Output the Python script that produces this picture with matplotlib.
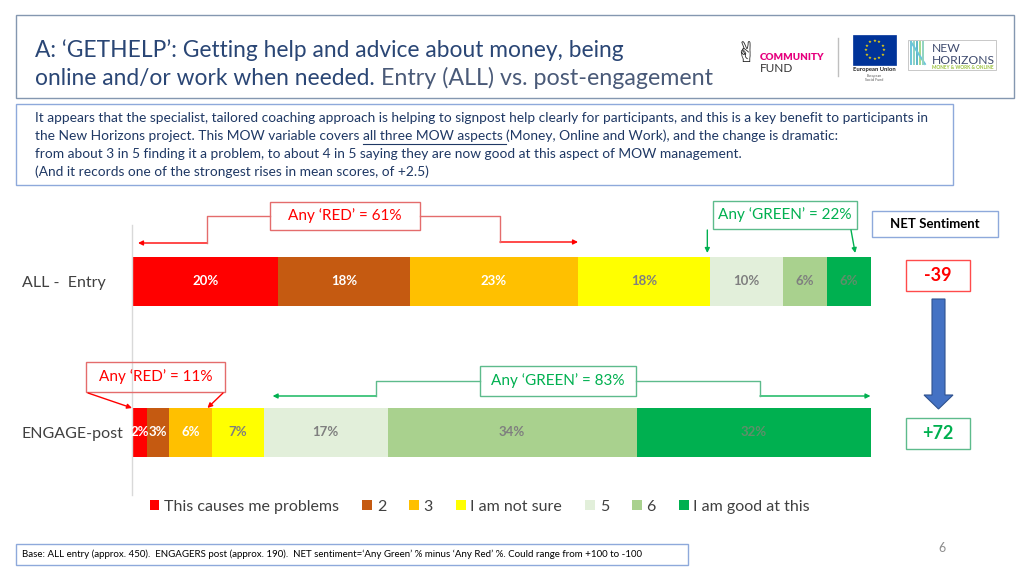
import matplotlib
matplotlib.use('Agg')
import matplotlib.pyplot as plt
from matplotlib.patches import Rectangle, Polygon, FancyArrowPatch
from matplotlib.lines import Line2D
import numpy as np

# ---------------- data ----------------
categories = ['ALL -  Entry', 'ENGAGE-post']
series_names = ['This causes me problems', '2', '3', 'I am not sure', '5', '6', 'I am good at this']
entry_values = [20, 18, 23, 18, 10, 6, 6]
engage_values = [2, 3, 6, 7, 17, 34, 32]
series_colors = ['#FF0000', '#C55A11', '#FFC000', '#FFFF00', '#E2EFDA', '#A9D18E', '#00B050']
label_colors = ['white', 'white', 'white', '#7F7F7F', '#7F7F7F', '#7F7F7F', '#5F8F6A']
any_red = [61, 11]
any_green = [22, 83]
net_sentiment = [-39, 72]

title_main_1 = "A: \u2018GETHELP\u2019: Getting help and advice about money, being"
title_main_2 = "online and/or work when needed."
title_light = "Entry (ALL) vs. post-engagement"
body_lines = [
    "It appears that the specialist, tailored coaching approach is helping to signpost help clearly for participants, and this is a key benefit to participants in",
    ("the New Horizons project. This MOW variable covers ", "all three MOW aspects ", "(Money, Online and Work), and the change is dramatic:"),
    "from about 3 in 5 finding it a problem, to about 4 in 5 saying they are now good at this aspect of MOW management.",
    "(And it records one of the strongest rises in mean scores, of +2.5)",
]
footnote = ("Base: ALL entry (approx. 450).  ENGAGERS post (approx. 190).  NET sentiment=\u2018Any Green\u2019 % "
            "minus \u2018Any Red\u2019 %. Could range from +100 to -100")

FONT = 'Lato'
plt.rcParams['font.family'] = [FONT, 'DejaVu Sans']

W, H = 1024, 576
fig = plt.figure(figsize=(W / 100, H / 100), dpi=100)
fig.patch.set_facecolor('white')
renderer = fig.canvas.get_renderer()


def fx(x):
    return x / W


def fy(y):
    return 1 - y / H


def T(x, y, s, **kw):
    return fig.text(fx(x), fy(y), s, **kw)


def fit(t, width):
    bb = t.get_window_extent(renderer)
    t.set_fontsize(t.get_fontsize() * width / bb.width)
    return t.get_fontsize()


def width_of(t):
    return t.get_window_extent(renderer).width


def rect(x, y, w, h, ec, lw=1.0, fc='none', z=1):
    r = Rectangle((fx(x), fy(y + h)), w / W, h / H, transform=fig.transFigure,
                  fill=(fc != 'none'), facecolor=fc, edgecolor=ec, lw=lw, zorder=z)
    fig.add_artist(r)
    return r


def seg(pts, color, lw=1.0):
    xs = [fx(p[0]) for p in pts]
    ys = [fy(p[1]) for p in pts]
    fig.add_artist(Line2D(xs, ys, transform=fig.transFigure, color=color, lw=lw))


def arrow(p0, p1, color, lw=1.0, ms=7):
    a = FancyArrowPatch((fx(p0[0]), fy(p0[1])), (fx(p1[0]), fy(p1[1])),
                        transform=fig.transFigure, arrowstyle='-|>', mutation_scale=ms,
                        color=color, lw=lw, shrinkA=0, shrinkB=0)
    fig.add_artist(a)


# ---------------- header ----------------
rect(16, 15, 998, 83, ec='#8497B0', lw=1.0)
TITLE_C = '#2A4675'
t1 = T(35, 57, title_main_1, color=TITLE_C, fontsize=18, va='baseline', ha='left')
tsize = fit(t1, 587)
t2 = T(35, 85, title_main_2, color=TITLE_C, fontsize=tsize, va='baseline', ha='left')
w2 = width_of(t2)
t3 = T(35 + w2 + 6, 85, title_light, color='#4A5A78', fontsize=tsize, va='baseline', ha='left')
fit(t3, 713 - (35 + w2 + 6))

# logos (approximate)
T(746, 54, '\u270C', fontsize=20, color='#222222', ha='center', va='center', family='DejaVu Sans')
tc = T(760, 58, 'COMMUNITY', color='#E6007E', fontsize=8, fontweight='heavy', ha='left', va='center')
fit(tc, 64)
tf = T(760, 68, 'FUND', color='#333333', fontsize=8.5, ha='left', va='center')
seg([(838, 38), (838, 76)], '#BFBFBF', 1.0)
rect(853, 35, 43, 30, ec='#003399', fc='#003399', lw=0.5)
ang = np.linspace(0, 2 * np.pi, 13)[:-1]
for a in ang:
    T(874.5 + 9 * np.cos(a), 50 + 9 * np.sin(a), '\u2605', fontsize=3.2, color='#FFDD00',
      ha='center', va='center', family='DejaVu Sans')
T(874.5, 70, 'European Union', fontsize=4.2, fontweight='bold', color='#222222', ha='center', va='center')
T(874.5, 76, 'European', fontsize=2.6, color='#555555', ha='center', va='center')
T(874.5, 80, 'Social Fund', fontsize=2.6, color='#555555', ha='center', va='center')
rect(908, 40, 88, 30, ec='#BFBFBF', lw=0.6)
for i, c in enumerate(['#6CC5D9', '#8FD3C1', '#5BB8C9', '#A6D98C']):
    seg([(911 + i * 3, 64), (911 + i * 3, 42)], c, 1.4)
seg([(911, 42), (925, 64)], '#6CC5D9', 1.4)
seg([(923, 42), (923, 64)], '#8FD3C1', 1.4)
tn = T(932, 48, 'NEW', fontsize=9, color='#3F4B6E', ha='left', va='center')
th = T(932, 60, 'HORIZONS', fontsize=9, color='#3F4B6E', ha='left', va='center')
fit(th, 63)
tn.set_fontsize(th.get_fontsize())
tm = T(932, 67.5, 'MONEY & WORK & ONLINE', fontsize=3, color='#9BC23C', ha='left', va='center',
       fontweight='bold')
fit(tm, 62)

# ---------------- body text box ----------------
rect(16, 104, 937, 81, ec='#8EA9DB', lw=1.0)
BODY_C = '#1F3864'
b1 = T(35, 118, body_lines[0], color=BODY_C, fontsize=9, va='center', ha='left')
bsize = fit(b1, 900)
p0, p1, p2 = body_lines[1]
ta = T(35, 136, p0, color=BODY_C, fontsize=bsize, va='center', ha='left')
wa = width_of(ta)
tb = T(35 + wa, 136, p1, color=BODY_C, fontsize=bsize, va='center', ha='left')
wb = width_of(tb)
tcx = T(35 + wa + wb, 136, p2, color=BODY_C, fontsize=bsize, va='center', ha='left')
seg([(35 + wa, 143.5), (35 + wa + wb, 143.5)], BODY_C, 0.8)
T(35, 154, body_lines[2], color=BODY_C, fontsize=bsize, va='center', ha='left')
T(35, 172, body_lines[3], color=BODY_C, fontsize=bsize, va='center', ha='left')

# ---------------- bar chart ----------------
ax = fig.add_axes([fx(132), fy(495), 738.5 / W, 270 / H])
y = np.arange(len(categories))
left = np.zeros(len(categories))
containers = []
for i, name in enumerate(series_names):
    vals = np.array([entry_values[i], engage_values[i]], dtype=float)
    bc = ax.barh(y, vals, left=left, height=0.32, color=series_colors[i], label=name,
                 edgecolor='none')
    ax.bar_label(bc, labels=[f'{int(v)}%' for v in vals], label_type='center',
                 color=label_colors[i], fontsize=9.5, fontweight='bold')
    containers.append(bc)
    left += vals
ax.set_xlim(0, 101)
ax.set_ylim(1.414, -0.374)
ax.set_xticks([])
ax.set_yticks(y, categories)
for lbl in ax.get_yticklabels():
    lbl.set_ha('left')
    lbl.set_color('#404040')
    lbl.set_fontsize(11.5)
ax.tick_params(axis='y', length=0, pad=110 * 0.72)
for s in ['top', 'right', 'bottom']:
    ax.spines[s].set_visible(False)
ax.spines['left'].set_color('#D9D9D9')
ax.spines['left'].set_linewidth(1.0)
ax.set_facecolor('none')


def dpx(xdata):
    """data x -> image pixel x"""
    return ax.transData.transform((xdata, 0))[0]


RED_T = '#FF0000'
RED_B = '#E46C6C'
GRN_T = '#00B050'
GRN_B = '#5DBB8C'

# Any RED entry
rect(270, 202, 150, 28, ec=RED_B, lw=1.0)
T(345, 216, f"Any \u2018RED\u2019 = {any_red[0]}%", color=RED_T, fontsize=11, ha='center', va='center')
seg([(270, 216), (207, 216), (207, 243)], RED_B)
arrow((207, 243), (dpx(0) + 6, 243), RED_T)
seg([(420, 216), (500, 216), (500, 242)], RED_B)
arrow((500, 242), (dpx(any_red[0]), 242), RED_T)

# Any GREEN entry
rect(713, 201, 144, 28, ec=GRN_B, lw=1.0)
T(785, 215, f"Any \u2018GREEN\u2019 = {any_green[0]}%", color=GRN_T, fontsize=11, ha='center', va='center')
g0 = sum(entry_values) - any_green[0] - 1
arrow((dpx(g0) + 5, 230), (dpx(g0) + 5, 253), GRN_T)
arrow((851, 230), (dpx(100) - 8, 253), GRN_T)

# Any RED engage
rect(86, 362, 139, 30, ec=RED_B, lw=1.0)
T(155.5, 377, f"Any \u2018RED\u2019 = {any_red[1]}%", color=RED_T, fontsize=11, ha='center', va='center')
arrow((88, 393), (dpx(0), 408), RED_T)
arrow((223, 393), (dpx(any_red[1]) - 5, 408), RED_T)

# Any GREEN engage
rect(480, 366, 156, 30, ec=GRN_B, lw=1.0)
T(558, 381, f"Any \u2018GREEN\u2019 = {any_green[1]}%", color=GRN_T, fontsize=11, ha='center', va='center')
e0 = sum(engage_values[:4])
seg([(480, 381), (376, 381), (376, 396)], GRN_B)
arrow((376, 396), (dpx(e0) + 9, 396), GRN_T)
seg([(636, 381), (760, 381), (760, 396)], GRN_B)
arrow((760, 396), (dpx(sum(engage_values)), 396), GRN_T)

# NET sentiment
rect(872, 211, 126, 26, ec='#8EA9DB', lw=1.0)
T(935, 224, 'NET Sentiment', color='black', fontsize=9.5, fontweight='bold', ha='center', va='center')
rect(906, 260, 64, 31, ec='#FF4B4B', lw=1.0)
T(938, 275.5, f'{net_sentiment[0]:+d}', color=RED_T, fontsize=13,
  fontweight='bold', ha='center', va='center')
rect(906, 418, 64, 31, ec=GRN_B, lw=1.0)
T(938, 433.5, f'{net_sentiment[1]:+d}', color=GRN_T, fontsize=13,
  fontweight='bold', ha='center', va='center')
arr = [(932, 299), (945, 299), (945, 395), (953, 395), (938.5, 409), (924, 395), (932, 395)]
fig.add_artist(Polygon([(fx(a), fy(b)) for a, b in arr], closed=True, transform=fig.transFigure,
                       facecolor='#4472C4', edgecolor='#2F528F', lw=0.8))

# legend
leg = fig.legend(handles=containers, labels=series_names, loc='center',
                 bbox_to_anchor=(fx(480), fy(507)), bbox_transform=fig.transFigure,
                 ncol=7, frameon=False, fontsize=11.5, handlelength=0.6, handleheight=0.6,
                 handletextpad=0.3, columnspacing=1.45, labelcolor='#404040')

# footnote
rect(16, 544, 672, 21, ec='#8EA9DB', lw=1.0)
tfoot = T(22, 554.5, footnote, fontsize=6.5, color='black', ha='left', va='center')
fit(tfoot, 623)
T(942, 548, '6', fontsize=9, color='#8C8C8C', ha='center', va='center')

fig.savefig('out.png', dpi=100, facecolor='white')
